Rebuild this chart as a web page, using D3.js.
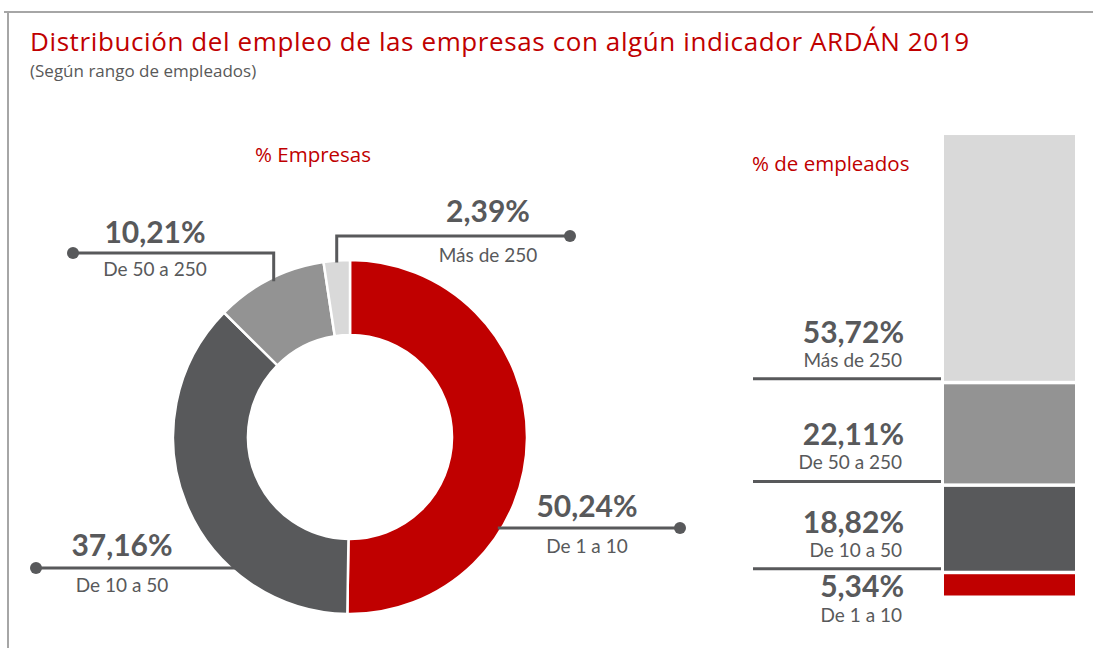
<!DOCTYPE html>
<html>
<head>
<meta charset="utf-8">
<script src="https://cdn.jsdelivr.net/npm/d3@7"></script>
<style>
	body { margin: 0; background: #fff; }
	text { font-family: Lato, "Open Sans", sans-serif; }
	.light { font-family: "Open Sans", Lato, sans-serif; }
</style>
</head>
<body>
<div id="chart"></div>
<script>

// data
var categories = ["De 1 a 10", "De 10 a 50", "De 50 a 250", "Más de 250"];
var empresasPct = [50.24, 37.16, 10.21, 2.39];
var empleadosPct = [5.34, 18.82, 22.11, 53.72];
var colors = ["#C00000", "#58595B", "#939393", "#D9D9D9"];

var fmt = function(v){ return v.toFixed(2).replace(".", ",") + "%"; };

var width = 1093, height = 648;
var red = "#C00000", grey = "#58595B";

var svg = d3.select("#chart").append("svg")
	.attr("width", width)
	.attr("height", height);

// frame
svg.append("path")
	.attr("d", "M4,12H1093M8,12V648")
	.attr("fill", "none")
	.attr("stroke", "#A6A6A6")
	.attr("stroke-width", 2);

// titles
svg.append("text")
	.attr("class", "light")
	.text("Distribución del empleo de las empresas con algún indicador ARDÁN 2019")
	.attr("x", 30).attr("y", 51)
	.attr("font-size", 26)
	.attr("letter-spacing", 0.6)
	.attr("fill", red);

svg.append("text")
	.attr("class", "light")
	.text("(Según rango de empleados)")
	.attr("x", 30).attr("y", 77)
	.attr("font-size", 17)
	.attr("fill", "#595959");

svg.append("text")
	.attr("class", "light")
	.text("% Empresas")
	.attr("x", 313).attr("y", 162)
	.attr("text-anchor", "middle")
	.attr("font-size", 20.5)
	.attr("fill", red);

svg.append("text")
	.attr("class", "light")
	.text("% de empleados")
	.attr("x", 752).attr("y", 171)
	.attr("font-size", 20.5)
	.attr("fill", red);

/*
 * Donut - % empresas
 */
var cx = 350, cy = 437, R = 177, r = 102;

var pie = d3.pie().sort(null).value(function(d){ return d; });
var arc = d3.arc().innerRadius(r).outerRadius(R);
var slices = pie(empresasPct);

var donut = svg.append("g")
	.attr("transform", "translate(" + cx + "," + cy + ")");

// leader lines first so arcs cover their ends
var leaders = svg.append("g");

function dot(x, y){
	leaders.append("circle").attr("cx", x).attr("cy", y).attr("r", 6).attr("fill", grey);
}
function line(d){
	leaders.append("path").attr("d", d)
		.attr("fill", "none").attr("stroke", grey).attr("stroke-width", 3);
}
function label(i, x, yNum, yCat, value){
	svg.append("text").text(fmt(value))
		.attr("x", x).attr("y", yNum)
		.attr("text-anchor", "middle")
		.attr("font-size", 30).attr("font-weight", 700)
		.attr("fill", grey);
	svg.append("text").text(categories[i])
		.attr("x", x).attr("y", yCat)
		.attr("text-anchor", "middle")
		.attr("font-size", 19)
		.attr("fill", grey);
}

// point on the outer edge at the middle of a slice
function edge(s){
	var a = (s.startAngle + s.endAngle) / 2;
	return [cx + R * Math.sin(a), cy - R * Math.cos(a)];
}

// De 1 a 10 (right, horizontal)
var y0 = 528;
line("M" + (cx + Math.sqrt(R * R - (y0 - cy) * (y0 - cy)) - 4) + "," + y0 + "H680");
dot(680, y0);
label(0, 587, 517, 553, empresasPct[0]);

// De 10 a 50 (left, horizontal)
var y1 = 568;
line("M36," + y1 + "H" + (cx - Math.sqrt(R * R - (y1 - cy) * (y1 - cy)) + 4));
dot(36, y1);
label(1, 122, 556, 592, empresasPct[1]);

// De 50 a 250 (upper left, elbow)
var p2 = edge(slices[2]);
line("M73,253H" + (p2[0] + 4) + "V" + (p2[1] + 2));
dot(73, 253);
label(2, 155, 243, 276, empresasPct[2]);

// Más de 250 (top, elbow)
var p3 = edge(slices[3]);
line("M" + p3[0] + "," + (p3[1] + 2) + "V236H570");
dot(570, 236);
label(3, 488, 222, 262, empresasPct[3]);

donut.selectAll("path")
	.data(slices)
	.enter()
	.append("path")
	.attr("d", arc)
	.attr("fill", function(d, i){ return colors[i]; })
	.attr("stroke", "#fff")
	.attr("stroke-width", 2.5);

/*
 * Stacked bar - % empleados
 */
var yScale = d3.scaleLinear().domain([0, 100]).range([599, 135]);
var gap = 3.5;
var stack = [];
var cum = 0;
empleadosPct.forEach(function(v, i){
	stack.push({ i: i, v: v, start: cum, end: cum + v });
	cum += v;
});

svg.append("g").selectAll("rect")
	.data(stack)
	.enter()
	.append("rect")
	.attr("x", 944)
	.attr("width", 131)
	.attr("y", function(d){ return yScale(d.end); })
	.attr("height", function(d){ return yScale(d.start) - yScale(d.end) - gap; })
	.attr("fill", function(d){ return colors[d.i]; });

stack.forEach(function(d){
	var bottom = yScale(d.start) - gap;
	var yNum, yCat;
	if (d.i === 0) {
		yNum = bottom + 1;
		yCat = bottom + 26;
	} else {
		var ly = bottom - 2;
		svg.append("line")
			.attr("x1", 753).attr("x2", 941)
			.attr("y1", ly).attr("y2", ly)
			.attr("stroke", grey).attr("stroke-width", 3);
		yNum = ly - 36;
		yCat = ly - 12;
	}
	svg.append("text").text(fmt(d.v))
		.attr("x", 904).attr("y", yNum)
		.attr("text-anchor", "end")
		.attr("font-size", 30).attr("font-weight", 700)
		.attr("fill", grey);
	svg.append("text").text(categories[d.i])
		.attr("x", 902).attr("y", yCat)
		.attr("text-anchor", "end")
		.attr("font-size", 19)
		.attr("fill", grey);
});

</script>
</body>
</html>
